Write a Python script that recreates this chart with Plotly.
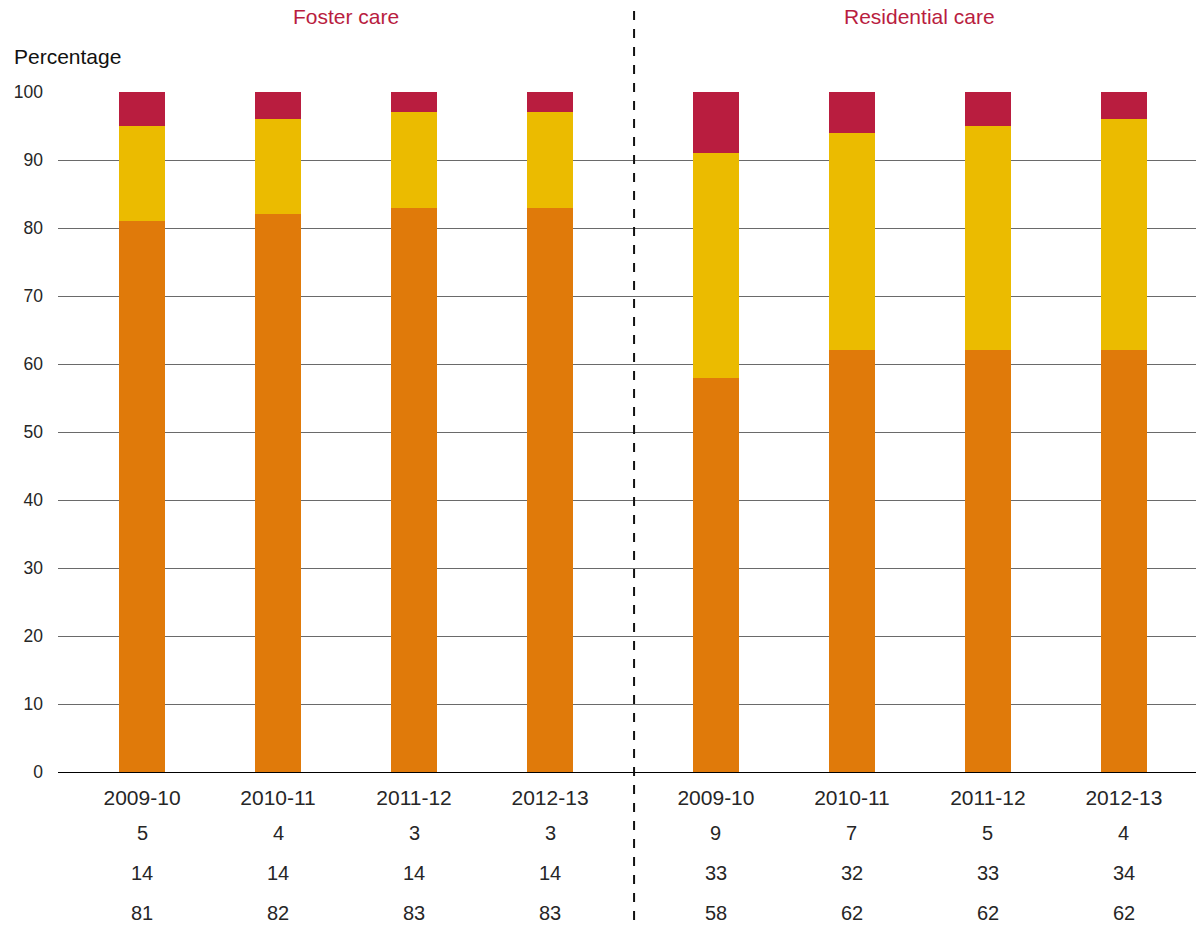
import plotly.graph_objects as go

# Placement shares (%) by year, foster care then residential care
years = ["2009-10", "2010-11", "2011-12", "2012-13",
         "2009-10", "2010-11", "2011-12", "2012-13"]
top_share = [5, 4, 3, 3, 9, 7, 5, 4]          # crimson segment
middle_share = [14, 14, 14, 14, 33, 32, 33, 34]  # yellow segment
bottom_share = [81, 82, 83, 83, 58, 62, 62, 62]  # orange segment
group_titles = ["Foster care", "Residential care"]
y_ticks = [0, 10, 20, 30, 40, 50, 60, 70, 80, 90, 100]

# x positions: two groups of four bars with a wider gap between groups
group_gap = 1.22
xpos = [0, 1, 2, 3] + [3 + group_gap + i for i in range(4)]

ORANGE = "#E07A0A"
YELLOW = "#EBBB00"
CRIMSON = "#B91D3F"
FONT = "Liberation Sans, Arial, sans-serif"
TEXT = "#262626"

W, H = 1196, 926
plot_left, plot_top, plot_bottom = 58, 92, 772
plot_h = plot_bottom - plot_top
plot_w = W - plot_left

def paper_y(py):
    return (plot_bottom - py) / plot_h

def paper_x(px):
    return (px - plot_left) / plot_w

fig = go.Figure()
for vals, col in [(bottom_share, ORANGE), (middle_share, YELLOW), (top_share, CRIMSON)]:
    fig.add_trace(go.Bar(x=xpos, y=vals, marker=dict(color=col, line=dict(width=0)),
                         width=0.338, hoverinfo="skip"))

annotations = []
# data rows under the year labels
for row_vals, py in [(top_share, 833), (middle_share, 873), (bottom_share, 913)]:
    for x, v in zip(xpos, row_vals):
        annotations.append(dict(x=x, y=paper_y(py), xref="x", yref="paper",
                                text=str(v), showarrow=False,
                                font=dict(family=FONT, size=20, color=TEXT),
                                xanchor="center", yanchor="middle"))

# group headings
for title, cx in [(group_titles[0], 1.5), (group_titles[1], 3 + group_gap + 1.5)]:
    annotations.append(dict(x=cx, y=paper_y(17), xref="x", yref="paper", text=title,
                            showarrow=False, font=dict(family=FONT, size=21, color=CRIMSON),
                            xanchor="center", yanchor="middle"))
# axis title
annotations.append(dict(x=paper_x(12), y=paper_y(57), xref="paper", yref="paper",
                        text="Percentage", showarrow=False,
                        font=dict(family=FONT, size=21, color="#111111"),
                        xanchor="left", yanchor="middle"))

divider_x = 3 + group_gap / 2 + 0.008
shapes = [dict(type="line", xref="x", yref="paper",
               x0=divider_x, x1=divider_x, y0=paper_y(920), y1=paper_y(8),
               line=dict(color="#111111", width=2, dash="dash"))]

fig.update_layout(
    width=W, height=H,
    margin=dict(l=plot_left, r=0, t=plot_top, b=H - plot_bottom),
    barmode="stack",
    showlegend=False,
    plot_bgcolor="white", paper_bgcolor="white",
    font=dict(family=FONT, size=17, color=TEXT),
    annotations=annotations,
    shapes=shapes,
    xaxis=dict(range=[-0.618, 7.75], tickvals=xpos, ticktext=years,
               showgrid=False, zeroline=False, showline=False,
               ticks="", tickfont=dict(size=21, color=TEXT), ticklabelstandoff=11),
    yaxis=dict(range=[0, 100], tickvals=y_ticks, showgrid=True,
               gridcolor="#6a6a6a", gridwidth=1, zeroline=True,
               zerolinecolor="#000000", zerolinewidth=1.2, showline=False,
               ticks="", tickfont=dict(size=17.5, color=TEXT), ticklabelstandoff=14,
               layer="below traces"),
)

fig.write_html("out.html")
